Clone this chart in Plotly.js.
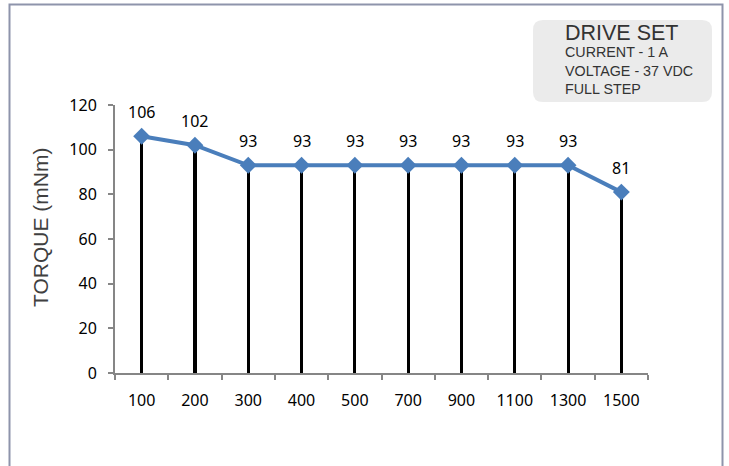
<!DOCTYPE html>
<html>
<head>
<meta charset="utf-8">
<script src="https://cdn.plot.ly/plotly-3.0.1.min.js"></script>
<style>html,body{margin:0;padding:0;background:#fff;}#chart{width:729px;height:466px;}</style>
</head>
<body>
<div id="chart"></div>
<script>
var speeds = ['100','200','300','400','500','700','900','1100','1300','1500'];
var torque = [106, 102, 93, 93, 93, 93, 93, 93, 93, 81];
var boxTitle = 'DRIVE SET';
var boxLines = ['CURRENT - 1 A', 'VOLTAGE - 37 VDC', 'FULL STEP'];
var yTitle = 'TORQUE (mNm)';

var lblFont = '"Noto Sans", sans-serif';
var arial = '"Liberation Sans", Arial, sans-serif';

var traces = [
  {
    type: 'bar', x: speeds, y: torque, width: 0.058,
    marker: {color: '#000000', line: {width: 0}},
    hoverinfo: 'skip', showlegend: false
  },
  {
    type: 'scatter', mode: 'lines+markers', x: speeds, y: torque,
    line: {color: '#4a7ebb', width: 4},
    marker: {symbol: 'diamond', size: 13, color: '#4a7ebb'},
    cliponaxis: false, showlegend: false
  }
];

function px2x(p){ return (p - 115) / 533; }
function px2y(p){ return (373 - p) / 268; }

var bx0 = px2x(533), bx1 = px2x(712), by0 = px2y(102), by1 = px2y(20);
var rx = 10/533, ry = 10/268;
var boxPath = 'M ' + (bx0+rx) + ',' + by1 +
  ' L ' + (bx1-rx) + ',' + by1 + ' Q ' + bx1 + ',' + by1 + ' ' + bx1 + ',' + (by1-ry) +
  ' L ' + bx1 + ',' + (by0+ry) + ' Q ' + bx1 + ',' + by0 + ' ' + (bx1-rx) + ',' + by0 +
  ' L ' + (bx0+rx) + ',' + by0 + ' Q ' + bx0 + ',' + by0 + ' ' + bx0 + ',' + (by0+ry) +
  ' L ' + bx0 + ',' + (by1-ry) + ' Q ' + bx0 + ',' + by1 + ' ' + (bx0+rx) + ',' + by1 + ' Z';

var frameL = px2x(9.5), frameR = px2x(722.5), frameT = px2y(4.5), frameB = px2y(480);
var framePath = 'M ' + frameL + ',' + frameB + ' L ' + frameL + ',' + frameT +
  ' L ' + frameR + ',' + frameT + ' L ' + frameR + ',' + frameB;

var annotations = [
  {xref: 'paper', yref: 'paper', x: px2x(563), y: px2y(33), xanchor: 'left', yanchor: 'middle',
   text: boxTitle, showarrow: false,
   font: {family: arial, size: 21.5, color: '#333'}},
  {xref: 'paper', yref: 'paper', x: px2x(40), y: px2y(228), xanchor: 'center', yanchor: 'middle',
   text: yTitle, textangle: -90, showarrow: false,
   font: {family: arial, size: 21, color: '#404040'}}
];
var lineYs = [52, 71, 89];
boxLines.forEach(function(t, i){
  annotations.push({xref: 'paper', yref: 'paper', x: px2x(563), y: px2y(lineYs[i]),
    xanchor: 'left', yanchor: 'middle', text: t, showarrow: false,
    font: {family: arial, size: 14.3, color: '#333'}});
});
speeds.forEach(function(s, i){
  annotations.push({xref: 'x', yref: 'y', x: i, y: torque[i], text: String(torque[i]),
    showarrow: false, xanchor: 'center', yanchor: 'middle', yshift: 24,
    font: {family: lblFont, size: 16, color: '#000'}});
});

var layout = {
  width: 729, height: 466,
  margin: {l: 115, r: 81, t: 105, b: 93},
  paper_bgcolor: '#ffffff', plot_bgcolor: '#ffffff',
  bargap: 0,
  xaxis: {
    type: 'category', range: [-0.5, 9.5], tickson: 'boundaries',
    showline: true, linecolor: '#868686', linewidth: 2,
    ticks: 'outside', ticklen: 5, tickcolor: '#868686', tickwidth: 2,
    ticklabelstandoff: 12,
    showgrid: false, zeroline: false,
    tickfont: {family: lblFont, size: 16, color: '#000'},
    fixedrange: true
  },
  yaxis: {
    range: [0, 120], dtick: 20,
    showline: true, linecolor: '#868686', linewidth: 2,
    ticks: 'outside', ticklen: 5, tickcolor: '#868686', tickwidth: 2,
    ticklabelstandoff: 8,
    showgrid: false, zeroline: false,
    tickfont: {family: lblFont, size: 16, color: '#000'},
    fixedrange: true
  },
  shapes: [
    {type: 'path', xref: 'paper', yref: 'paper', path: boxPath,
     fillcolor: '#ebebeb', line: {width: 0}, layer: 'below'},
    {type: 'path', xref: 'paper', yref: 'paper', path: framePath,
     line: {color: '#8e94ab', width: 2}}
  ],
  annotations: annotations,
  showlegend: false
};

Plotly.newPlot('chart', traces, layout, {displayModeBar: false, staticPlot: true});
</script>
</body>
</html>
